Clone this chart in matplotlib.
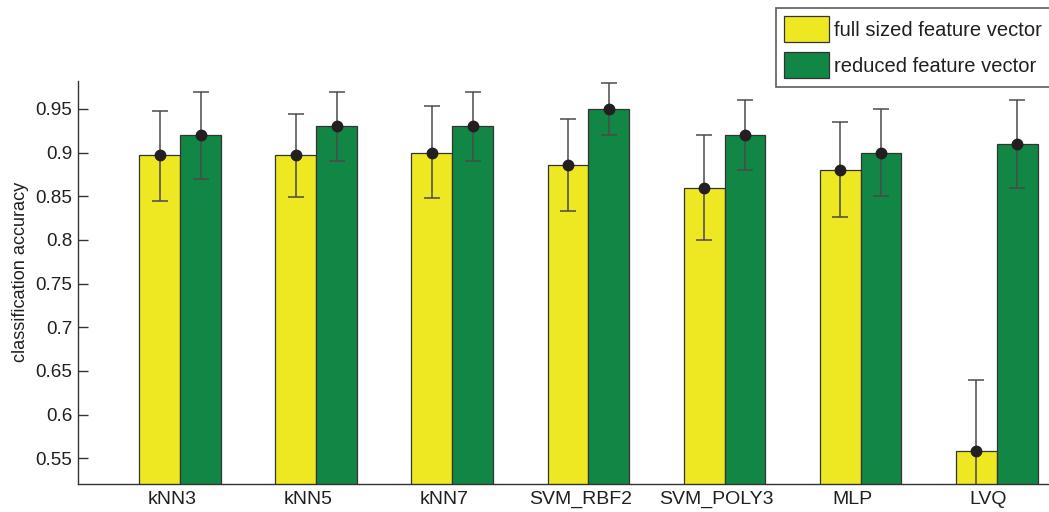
import numpy as np
import matplotlib
matplotlib.use("Agg")
import matplotlib.pyplot as plt

plt.rcParams['font.family'] = ['Liberation Sans', 'DejaVu Sans']

classifiers = ['kNN3', 'kNN5', 'kNN7', 'SVM_RBF2', 'SVM_POLY3', 'MLP', 'LVQ']
series_names = ['full sized feature vector', 'reduced feature vector']

full_acc = [0.897, 0.897, 0.900, 0.886, 0.860, 0.880, 0.558]
full_lo = [0.845, 0.849, 0.848, 0.833, 0.800, 0.826, 0.476]
full_hi = [0.948, 0.944, 0.953, 0.938, 0.920, 0.935, 0.640]

red_acc = [0.920, 0.930, 0.930, 0.950, 0.920, 0.900, 0.910]
red_lo = [0.870, 0.890, 0.890, 0.920, 0.880, 0.850, 0.860]
red_hi = [0.970, 0.970, 0.970, 0.980, 0.960, 0.950, 0.960]

yticks = [0.55, 0.6, 0.65, 0.7, 0.75, 0.8, 0.85, 0.9, 0.95]
ytick_labels = ['0.55', '0.6', '0.65', '0.7', '0.75', '0.8', '0.85', '0.9', '0.95']

text_col = '#231f20'
yellow = '#eee823'
green = '#128645'

fig = plt.figure(figsize=(10.49, 5.12), dpi=100)
ax = fig.add_axes([0.0744, 0.0547, 0.9256, 0.787])

x = np.arange(1, len(classifiers) + 1)
w = 0.3

b1 = ax.bar(x - w / 2, full_acc, w, color=yellow, edgecolor='#333333', linewidth=0.9,
            label=series_names[0], zorder=2)
b2 = ax.bar(x + w / 2, red_acc, w, color=green, edgecolor='#333333', linewidth=0.9,
            label=series_names[1], zorder=2)

for xs, acc, lo, hi in [(x - w / 2, full_acc, full_lo, full_hi), (x + w / 2, red_acc, red_lo, red_hi)]:
    acc = np.array(acc)
    err = [acc - np.array(lo), np.array(hi) - acc]
    ax.errorbar(xs, acc, yerr=err, fmt='o', color='#231f20', ecolor='#4a4a4a',
                elinewidth=1.1, capsize=6, capthick=1.1, markersize=7.5, zorder=3)

ax.set_xlim(0.25, 7.384)
ax.set_ylim(0.5206, 0.982)
ax.set_yticks(yticks)
ax.set_yticklabels(ytick_labels)
# labels sit a little left of the group centres in the original
ax.set_xticks(x - 0.06)
ax.set_xticklabels(classifiers)

ax.tick_params(axis='x', length=0, pad=5, labelsize=14, labelcolor=text_col)
ax.tick_params(axis='y', direction='in', length=7, width=1, pad=4, labelsize=13.6,
               labelcolor=text_col, color='#333333')
ax.spines['top'].set_visible(False)
ax.spines['right'].set_visible(False)
for s in ['left', 'bottom']:
    ax.spines[s].set_color('#333333')
    ax.spines[s].set_linewidth(1)

ax.set_ylabel('classification accuracy', fontsize=13.1, color=text_col)
ax.yaxis.set_label_coords(-0.050, 0.526)

leg = fig.legend(handles=[b1, b2], loc='upper left', bbox_to_anchor=(776 / 1049, 1 - 8 / 512),
                 fontsize=14.5, frameon=True, fancybox=False, edgecolor='#333333',
                 handlelength=2.2, handleheight=1.6, borderpad=0.42, labelspacing=0.5,
                 handletextpad=0.25, borderaxespad=0)
leg.get_frame().set_linewidth(1.2)
for t in leg.get_texts():
    t.set_color(text_col)

fig.savefig('out.png', dpi=100)
